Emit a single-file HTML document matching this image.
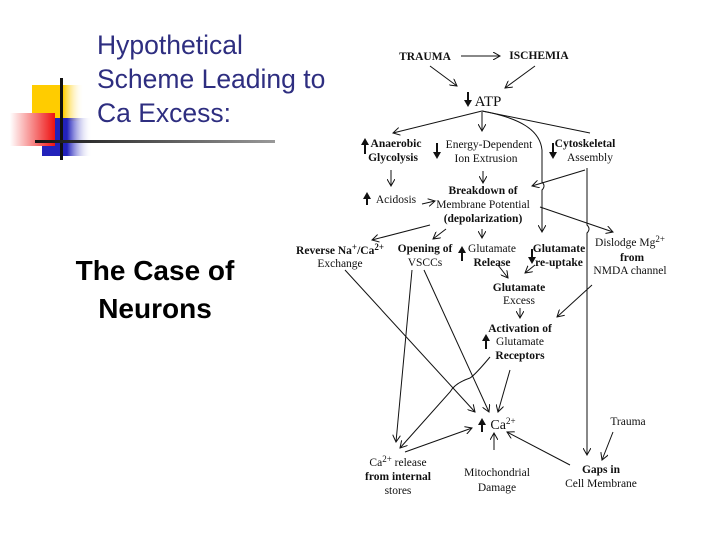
<!DOCTYPE html>
<html><head><meta charset="utf-8"><style>
body{margin:0;width:720px;height:540px;background:#fff;overflow:hidden;position:relative;font-family:"Liberation Sans",sans-serif}
.t{position:absolute;left:97px;top:28px;color:#2e2e80;font-size:26.5px;line-height:34px}
.n{position:absolute;left:40px;width:230px;text-align:center;top:252px;font-size:28px;font-weight:bold;line-height:38px}
svg{position:absolute;left:0;top:0}
svg text{font-family:"Liberation Serif",serif;font-size:11.5px;fill:#111;text-anchor:middle}
</style></head><body>
<svg width="720" height="540">
<defs>
<linearGradient id="gy" x1="0" x2="1"><stop offset="0" stop-color="#ffcc00"/><stop offset="0.6" stop-color="#ffcc00"/><stop offset="1" stop-color="#fff" stop-opacity="0"/></linearGradient>
<linearGradient id="gr" x1="0" x2="1"><stop offset="0" stop-color="#fff"/><stop offset="1" stop-color="#ee1111"/></linearGradient>
<linearGradient id="gb" x1="0" x2="1"><stop offset="0" stop-color="#2222bb"/><stop offset="0.5" stop-color="#2222bb"/><stop offset="1" stop-color="#fff" stop-opacity="0"/></linearGradient>
<linearGradient id="gl" x1="0" x2="1"><stop offset="0" stop-color="#111"/><stop offset="1" stop-color="#999"/></linearGradient>
<marker id="a" markerWidth="8" markerHeight="8" refX="7" refY="4" orient="auto" markerUnits="userSpaceOnUse"><path d="M0,0 L7,4 L0,8" fill="none" stroke="#111" stroke-width="1"/></marker>
</defs>
<rect x="32" y="85" width="52" height="36" fill="url(#gy)"/>
<rect x="42" y="118" width="50" height="38" fill="url(#gb)"/>
<rect x="10" y="113" width="45" height="33" fill="url(#gr)"/>
<rect x="60" y="78" width="3" height="82" fill="#111"/>
<rect x="35" y="140" width="240" height="3" fill="url(#gl)"/>
<g stroke="#111" stroke-width="1" fill="none" marker-end="url(#a)">
<path d="M461,56 L500,56"/>
<path d="M430,66 L457,86"/>
<path d="M535,66 L505,88"/>
<path d="M482,111 L393,133"/>
<path d="M482,112 L482,131"/>
<path d="M482,111 C520,118 540,130 542,150 L542,182 Q546,186 542,190 L542,232"/>
<path d="M585,170 L532,186"/>
<path d="M587,168 L587,225 Q591,229 587,233 L587,455"/>
<path d="M391,170 L391,186"/>
<path d="M422,204 L435,201"/>
<path d="M483,171 L483,183"/>
<path d="M540,207 L613,232"/>
<path d="M430,225 L372,240"/>
<path d="M446,229 L433,239"/>
<path d="M482,229 L482,238"/>
<path d="M498,265 L508,278"/>
<path d="M535,265 L525,273"/>
<path d="M520,308 L520,318"/>
<path d="M592,285 L557,317"/>
<path d="M345,270 L475,412"/>
<path d="M412,270 L396,442"/>
<path d="M424,270 L489,412"/>
<path d="M490,357 Q475,375 470,378 Q455,383 450,392 L400,448"/>
<path d="M510,370 L498,412"/>
<path d="M405,452 L472,428"/>
<path d="M494,450 L494,433"/>
<path d="M570,465 L507,432"/>
<path d="M613,432 L602,460"/>
</g>
<path d="M482,111 L590,133" stroke="#111" fill="none"/>
<g font-weight="bold">
<text x="425" y="60">TRAUMA</text>
<text x="539" y="59">ISCHEMIA</text>
<text x="488" y="106" style="font-size:15px;font-weight:normal">ATP</text>
<text x="396" y="147">Anaerobic</text><text x="393" y="161">Glycolysis</text>
<text x="489" y="148" font-weight="normal">Energy-Dependent</text><text x="486" y="162" font-weight="normal">Ion Extrusion</text>
<text x="585" y="147">Cytoskeletal</text><text x="590" y="161" font-weight="normal">Assembly</text>
<text x="396" y="203" font-weight="normal">Acidosis</text>
<text x="483" y="194">Breakdown of</text><text x="483" y="208" font-weight="normal">Membrane Potential</text><text x="483" y="222">(depolarization)</text>
<text x="340" y="254">Reverse Na<tspan dy="-4" font-size="9">+</tspan><tspan dy="4">/Ca</tspan><tspan dy="-4" font-size="9">2+</tspan></text><text x="340" y="267" font-weight="normal">Exchange</text>
<text x="425" y="252">Opening of</text><text x="425" y="266" font-weight="normal">VSCCs</text>
<text x="492" y="252" font-weight="normal">Glutamate</text><text x="492" y="266">Release</text>
<text x="559" y="252">Glutamate</text><text x="559" y="266">re-uptake</text>
<text x="630" y="246" font-weight="normal">Dislodge Mg<tspan dy="-4" font-size="9">2+</tspan></text><text x="632" y="261">from</text><text x="630" y="274" font-weight="normal">NMDA channel</text>
<text x="519" y="291">Glutamate</text><text x="519" y="304" font-weight="normal">Excess</text>
<text x="520" y="332">Activation of</text><text x="520" y="345" font-weight="normal">Glutamate</text><text x="520" y="359">Receptors</text>
<text x="503" y="429" style="font-size:14px;font-weight:normal">Ca<tspan dy="-5" font-size="9">2+</tspan></text>
<text x="628" y="425" font-weight="normal">Trauma</text>
<text x="398" y="466" font-weight="normal">Ca<tspan dy="-4" font-size="9">2+</tspan><tspan dy="4"> release</tspan></text><text x="398" y="480">from internal</text><text x="398" y="494" font-weight="normal">stores</text>
<text x="497" y="476" font-weight="normal">Mitochondrial</text><text x="497" y="491" font-weight="normal">Damage</text>
<text x="601" y="473">Gaps in</text><text x="601" y="487" font-weight="normal">Cell Membrane</text>
</g>
<g fill="#111">
<path d="M467,92 v8 h-3 l4,7 l4,-7 h-3 v-8z"/>
<path d="M361,145 l4,-7 l4,7 h-3 v9 h-2 v-9z"/>
<path d="M436,143 v9 h-3 l4,7 l4,-7 h-3 v-9z"/>
<path d="M552,143 v9 h-3 l4,7 l4,-7 h-3 v-9z"/>
<path d="M363,199 l4,-7 l4,7 h-3 v6 h-2 v-6z"/>
<path d="M458,253 l4,-7 l4,7 h-3 v8 h-2 v-8z"/>
<path d="M531,249 v8 h-3 l4,7 l4,-7 h-3 v-8z"/>
<path d="M482,341 l4,-7 l4,7 h-3 v8 h-2 v-8z"/>
<path d="M478,425 l4,-7 l4,7 h-3 v7 h-2 v-7z"/>
</g>
</svg>
<div class="t">Hypothetical<br>Scheme Leading to<br>Ca Excess:</div>
<div class="n">The Case of<br>Neurons</div>
</body></html>
